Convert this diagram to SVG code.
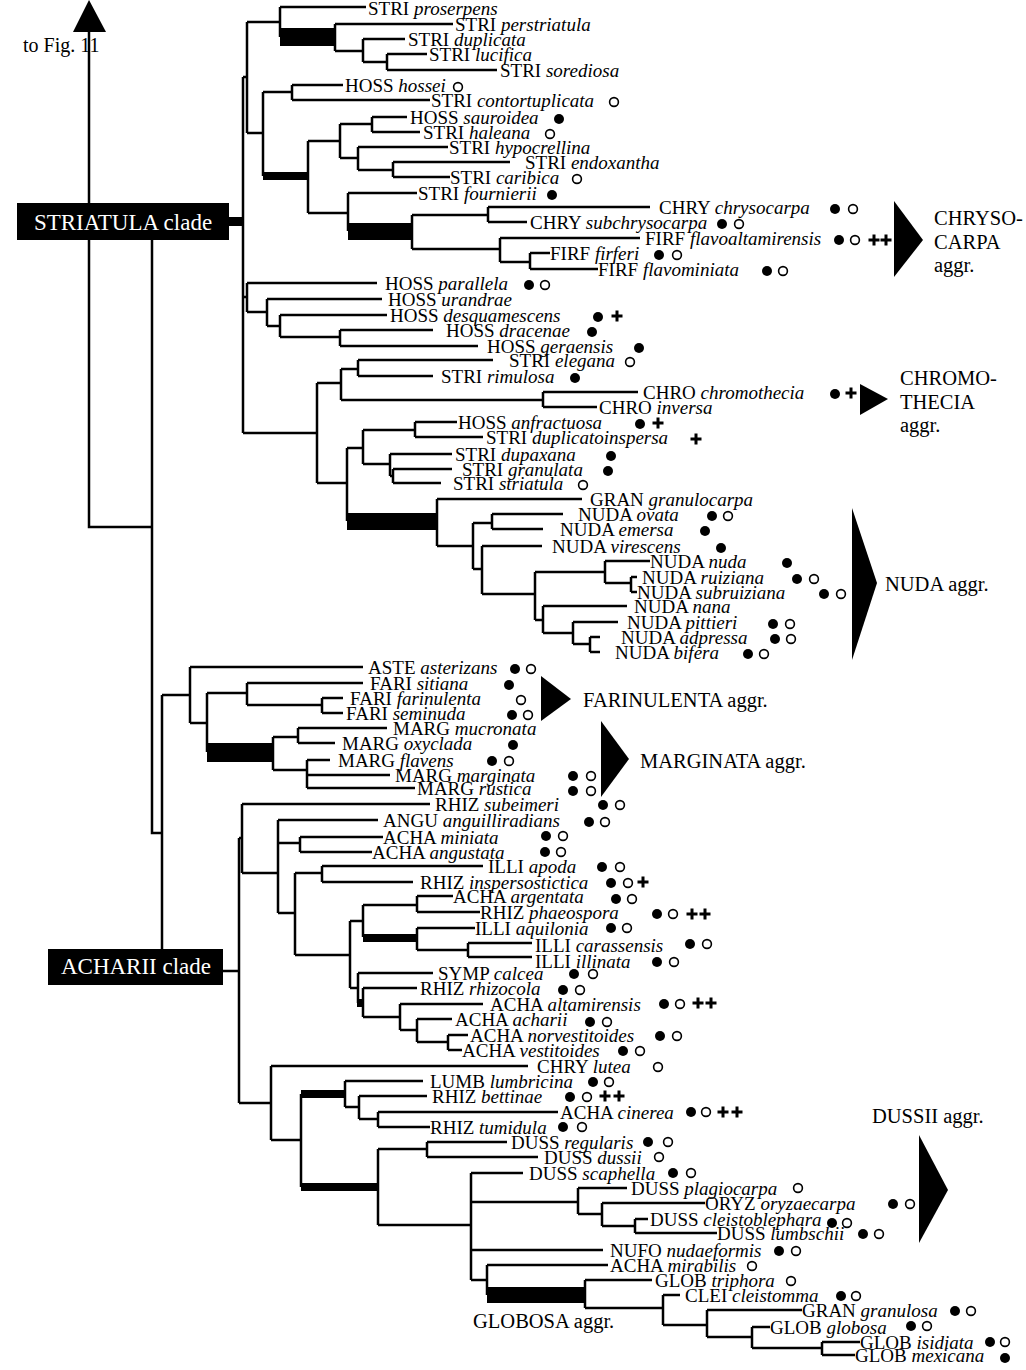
<svg xmlns="http://www.w3.org/2000/svg" xmlns:xlink="http://www.w3.org/1999/xlink" width="1026" height="1370" viewBox="0 0 1026 1370">
<style>
.l{fill:none;stroke:#000;stroke-width:2.5}
.t{font-family:"Liberation Serif","Times New Roman",serif;font-size:19px;fill:#000}
.i{font-style:italic}
.a{font-family:"Liberation Serif","Times New Roman",serif;font-size:20.5px;fill:#000}
.c{font-family:"Liberation Serif","Times New Roman",serif;font-size:23px;fill:#fff}
</style>
<defs>
<circle id="fc" r="5" fill="#000"/>
<circle id="oc" r="4.4" fill="#fff" stroke="#000" stroke-width="1.6"/>
<path id="pl" d="M-5.5 0H5.5M0 -5.5V5.5" stroke="#000" stroke-width="3" fill="none"/>
</defs>
<rect width="1026" height="1370" fill="#fff"/>
<g id="connectors">
<path class="l" d="M280 7H366M335 24H453M363 39H405M387 54H427M387 70H497M292 85H343M292 100H430M372 117H407M372 132H420M358 147H448M393 162H510M393 177H450M348 193H417M488 207H650M488 222H527M500 238H640M530 253H550M530 269H598M247 283H377M267 299H382M280 315H387M340 330H433M340 346H478M358 360H493M358 376H433M543 392H638M543 407H597M415 422H457M415 437H483M390 454H452M393 469H452M393 483H441M437 499H582M492 514H563M492 529H543M482 546H542M605 561H650M631 577H637M631 592H637M543 606H627M573 622H618M590 637H600M590 652H600"/>
<path class="l" d="M190 667H363M247 683H363M322 698H343M322 713H343M298 728H387M298 743H335M307 760H330M307 775H390M307 788H415M242 804H430M278 820H378M300 837H383M300 852H372M322 866H483M322 882H413M417 896H453M417 912H480M417 928H475M468 943H532M468 957H532M358 973H433M363 988H417M400 1004H483M417 1019H452M448 1035H468M448 1050H462M271 1066H528M345 1081H423M359 1096H427M378 1112H558M378 1127H430M427 1142H507M427 1157H538M471 1173H523M578 1188H627M602 1203H705M635 1219H648M635 1233H717M471 1250H603M487 1265H608M585 1280H652M663 1295H680M707 1310H802M752 1327H770M822 1342H860M822 1355H855"/>
<path class="l" d="M387 54V70M363 62H387M363 39V62M335 51H363M335 24V51M280 7V37M247 22H280M292 85V100M263 92H292M372 117V132M340 124H372M393 162V177M358 170H393M358 147V170M340 158H358M340 124V158M308 141H340M488 207V222M412 215H488M530 253V269M500 262H530M500 238V262M412 249H500M412 215V249M348 193V231M308 213H348M308 141V213M263 92V176M247 133H263M247 22V133M243 77H247M340 330V346M280 337H340M280 315V337M267 326H280M267 299V326M247 312H267M247 283V312M243 297H247M358 360V376M341 369H358M543 392V407M341 400H543M341 369V400M317 383H341M415 422V437M363 430H415M393 469V483M390 476H393M390 454V476M363 464H390M363 430V464M347 448H363M492 514V529M473 523H492M631 577V592M605 583H631M605 561V583M535 572H605M590 637V652M573 644H590M573 622V644M543 633H573M543 606V633M535 620H543M535 572V620M482 594H535M482 546V594M473 569H482M473 523V569M437 546H473M437 499V546M347 448V521M317 483H347M317 383V483M243 433H317M243 77V433"/>
<path class="l" d="M89 30V527H152M152 240V833H162M162 695V949M162 695H190M322 698V713M247 705H322M247 683V705M207 693H247M298 728V743M273 737H298M307 760V788M273 770H307M273 737V770M207 693V752M190 723H207M190 667V723"/>
<path class="l" d="M300 837V852M278 843H300M322 866V882M295 873H322M417 896V912M363 905H417M468 943V957M417 950H468M417 928V950M363 905V937M350 921H363M448 1035V1050M417 1042H448M417 1019V1042M400 1030H417M400 1004V1030M363 1017H400M363 988V1017M358 1003H363M358 973V1003M350 988H358M350 921V988M295 955H350M295 873V955M278 913H295M278 820V913M242 873H278M242 804V873M239 838H242M239 838V1103M223 971H239M378 1112V1127M359 1119H378M359 1096V1119M345 1107H359M345 1081V1107M427 1142V1157M378 1149H427M635 1219V1233M602 1226H635M602 1203V1226M578 1214H602M578 1188V1214M471 1202H578M822 1342V1355M752 1348H822M752 1327V1348M707 1337H752M707 1310V1337M663 1325H707M663 1295V1325M585 1308H663M585 1280V1308M487 1265V1295M471 1280H487M471 1173V1280M378 1225H471M378 1149V1225M301 1094V1187M271 1140H301M271 1066V1140M239 1103H271"/>
<g id="thick" fill="#000">
<rect x="280" y="28" width="55" height="18"/>
<rect x="348" y="223" width="64" height="17"/>
<rect x="263" y="172" width="45" height="8"/>
<rect x="347" y="513" width="90" height="17"/>
<rect x="229" y="217" width="14" height="9"/>
<rect x="207" y="743" width="66" height="19"/>
<rect x="363" y="934" width="54" height="8"/>
<rect x="357" y="999" width="6" height="8"/>
<rect x="301" y="1090" width="44" height="8"/>
<rect x="487" y="1287" width="98" height="16"/>
<rect x="301" y="1183" width="77" height="8"/>
</g>
<polygon points="73,32 89,0 106,32" fill="#000"/>
</g>
<g id="fig11"><text class="a" x="23" y="52" style="font-size:20px">to Fig. 11</text></g>
<g id="striatula-clade"><rect x="17" y="203" width="212" height="37" fill="#000"/><text class="c" x="123" y="230" text-anchor="middle">STRIATULA clade</text></g>
<g id="acharii-clade"><rect x="48" y="949" width="175" height="36" fill="#000"/><text class="c" x="136" y="974" text-anchor="middle">ACHARII clade</text></g>
<g id="aggregates" fill="#000">
<polygon points="894,201 923,240 894,277"/>
<polygon points="860,384 888,399 860,415"/>
<polygon points="852,508 877,583 852,660"/>
<polygon points="541,676 571,699 541,721"/>
<polygon points="601,721 629,759 601,797"/>
<polygon points="919,1135 948,1190 919,1243"/>
<text class="a" x="934" y="225">CHRYSO-</text><text class="a" x="934" y="249">CARPA</text><text class="a" x="934" y="272">aggr.</text>
<text class="a" x="900" y="385">CHROMO-</text><text class="a" x="900" y="409">THECIA</text><text class="a" x="900" y="432">aggr.</text>
<text class="a" x="885" y="591">NUDA aggr.</text>
<text class="a" x="583" y="707">FARINULENTA aggr.</text>
<text class="a" x="640" y="768">MARGINATA aggr.</text>
<text class="a" x="872" y="1123">DUSSII aggr.</text>
<text class="a" x="473" y="1328">GLOBOSA aggr.</text>
</g>
<g id="leaves">
<g id="proserpens"><text class="t" x="368" y="15">STRI <tspan class="i">proserpens</tspan></text></g>
<g id="perstriatula"><text class="t" x="455" y="31">STRI <tspan class="i">perstriatula</tspan></text></g>
<g id="duplicata"><text class="t" x="408" y="46">STRI <tspan class="i">duplicata</tspan></text></g>
<g id="lucifica"><text class="t" x="429" y="61">STRI <tspan class="i">lucifica</tspan></text></g>
<g id="sorediosa"><text class="t" x="500" y="77">STRI <tspan class="i">sorediosa</tspan></text></g>
<g id="hossei"><text class="t" x="345" y="92">HOSS <tspan class="i">hossei</tspan></text><use href="#oc" x="458" y="87"/></g>
<g id="contortuplicata"><text class="t" x="431" y="107">STRI <tspan class="i">contortuplicata</tspan></text><use href="#oc" x="614" y="102"/></g>
<g id="sauroidea"><text class="t" x="410" y="124">HOSS <tspan class="i">sauroidea</tspan></text><use href="#fc" x="559" y="119"/></g>
<g id="haleana"><text class="t" x="423" y="139">STRI <tspan class="i">haleana</tspan></text><use href="#oc" x="550" y="134"/></g>
<g id="hypocrellina"><text class="t" x="449" y="154">STRI <tspan class="i">hypocrellina</tspan></text></g>
<g id="endoxantha"><text class="t" x="525" y="169">STRI <tspan class="i">endoxantha</tspan></text></g>
<g id="caribica"><text class="t" x="450" y="184">STRI <tspan class="i">caribica</tspan></text><use href="#oc" x="577" y="179"/></g>
<g id="fournierii"><text class="t" x="418" y="200">STRI <tspan class="i">fournierii</tspan></text><use href="#fc" x="552" y="195"/></g>
<g id="chrysocarpa"><text class="t" x="659" y="214">CHRY <tspan class="i">chrysocarpa</tspan></text><use href="#fc" x="835" y="209"/><use href="#oc" x="853" y="209"/></g>
<g id="subchrysocarpa"><text class="t" x="530" y="229">CHRY <tspan class="i">subchrysocarpa</tspan></text><use href="#fc" x="722" y="224"/><use href="#oc" x="739" y="224"/></g>
<g id="flavoaltamirensis"><text class="t" x="645" y="245">FIRF <tspan class="i">flavoaltamirensis</tspan></text><use href="#fc" x="839" y="240"/><use href="#oc" x="855" y="240"/><use href="#pl" x="874" y="240"/><use href="#pl" x="886" y="240"/></g>
<g id="firferi"><text class="t" x="550" y="260">FIRF <tspan class="i">firferi</tspan></text><use href="#fc" x="659" y="255"/><use href="#oc" x="677" y="255"/></g>
<g id="flavominiata"><text class="t" x="598" y="276">FIRF <tspan class="i">flavominiata</tspan></text><use href="#fc" x="767" y="271"/><use href="#oc" x="783" y="271"/></g>
<g id="parallela"><text class="t" x="385" y="290">HOSS <tspan class="i">parallela</tspan></text><use href="#fc" x="529" y="285"/><use href="#oc" x="545" y="285"/></g>
<g id="urandrae"><text class="t" x="388" y="306">HOSS <tspan class="i">urandrae</tspan></text></g>
<g id="desquamescens"><text class="t" x="390" y="322">HOSS <tspan class="i">desquamescens</tspan></text><use href="#fc" x="598" y="317"/><use href="#pl" x="617" y="316"/></g>
<g id="dracenae"><text class="t" x="446" y="337">HOSS <tspan class="i">dracenae</tspan></text><use href="#fc" x="592" y="332"/></g>
<g id="geraensis"><text class="t" x="487" y="353">HOSS <tspan class="i">geraensis</tspan></text><use href="#fc" x="639" y="348"/></g>
<g id="elegana"><text class="t" x="509" y="367">STRI <tspan class="i">elegana</tspan></text><use href="#oc" x="630" y="362"/></g>
<g id="rimulosa"><text class="t" x="441" y="383">STRI <tspan class="i">rimulosa</tspan></text><use href="#fc" x="575" y="378"/></g>
<g id="chromothecia"><text class="t" x="643" y="399">CHRO <tspan class="i">chromothecia</tspan></text><use href="#fc" x="835" y="394"/><use href="#pl" x="851" y="393"/></g>
<g id="inversa"><text class="t" x="599" y="414">CHRO <tspan class="i">inversa</tspan></text></g>
<g id="anfractuosa"><text class="t" x="458" y="429">HOSS <tspan class="i">anfractuosa</tspan></text><use href="#fc" x="640" y="424"/><use href="#pl" x="658" y="423"/></g>
<g id="duplicatoinspersa"><text class="t" x="486" y="444">STRI <tspan class="i">duplicatoinspersa</tspan></text><use href="#pl" x="696" y="439"/></g>
<g id="dupaxana"><text class="t" x="455" y="461">STRI <tspan class="i">dupaxana</tspan></text><use href="#fc" x="611" y="456"/></g>
<g id="granulata"><text class="t" x="462" y="476">STRI <tspan class="i">granulata</tspan></text><use href="#fc" x="608" y="471"/></g>
<g id="striatula"><text class="t" x="453" y="490">STRI <tspan class="i">striatula</tspan></text><use href="#oc" x="583" y="485"/></g>
<g id="granulocarpa"><text class="t" x="590" y="506">GRAN <tspan class="i">granulocarpa</tspan></text></g>
<g id="ovata"><text class="t" x="578" y="521">NUDA <tspan class="i">ovata</tspan></text><use href="#fc" x="712" y="516"/><use href="#oc" x="728" y="516"/></g>
<g id="emersa"><text class="t" x="560" y="536">NUDA <tspan class="i">emersa</tspan></text><use href="#fc" x="705" y="531"/></g>
<g id="virescens"><text class="t" x="552" y="553">NUDA <tspan class="i">virescens</tspan></text><use href="#fc" x="721" y="548"/></g>
<g id="nuda"><text class="t" x="650" y="568">NUDA <tspan class="i">nuda</tspan></text><use href="#fc" x="787" y="563"/></g>
<g id="ruiziana"><text class="t" x="642" y="584">NUDA <tspan class="i">ruiziana</tspan></text><use href="#fc" x="797" y="579"/><use href="#oc" x="814" y="579"/></g>
<g id="subruiziana"><text class="t" x="637" y="599">NUDA <tspan class="i">subruiziana</tspan></text><use href="#fc" x="824" y="594"/><use href="#oc" x="841" y="594"/></g>
<g id="nana"><text class="t" x="634" y="613">NUDA <tspan class="i">nana</tspan></text></g>
<g id="pittieri"><text class="t" x="627" y="629">NUDA <tspan class="i">pittieri</tspan></text><use href="#fc" x="773" y="624"/><use href="#oc" x="790" y="624"/></g>
<g id="adpressa"><text class="t" x="621" y="644">NUDA <tspan class="i">adpressa</tspan></text><use href="#fc" x="775" y="639"/><use href="#oc" x="791" y="639"/></g>
<g id="bifera"><text class="t" x="615" y="659">NUDA <tspan class="i">bifera</tspan></text><use href="#fc" x="748" y="654"/><use href="#oc" x="764" y="654"/></g>
<g id="asterizans"><text class="t" x="368" y="674">ASTE <tspan class="i">asterizans</tspan></text><use href="#fc" x="515" y="669"/><use href="#oc" x="531" y="669"/></g>
<g id="sitiana"><text class="t" x="370" y="690">FARI <tspan class="i">sitiana</tspan></text><use href="#fc" x="509" y="685"/></g>
<g id="farinulenta"><text class="t" x="350" y="705">FARI <tspan class="i">farinulenta</tspan></text><use href="#oc" x="521" y="700"/></g>
<g id="seminuda"><text class="t" x="346" y="720">FARI <tspan class="i">seminuda</tspan></text><use href="#fc" x="512" y="715"/><use href="#oc" x="528" y="715"/></g>
<g id="mucronata"><text class="t" x="393" y="735">MARG <tspan class="i">mucronata</tspan></text></g>
<g id="oxyclada"><text class="t" x="342" y="750">MARG <tspan class="i">oxyclada</tspan></text><use href="#fc" x="513" y="745"/></g>
<g id="flavens"><text class="t" x="338" y="767">MARG <tspan class="i">flavens</tspan></text><use href="#fc" x="492" y="761"/><use href="#oc" x="509" y="761"/></g>
<g id="marginata"><text class="t" x="395" y="782">MARG <tspan class="i">marginata</tspan></text><use href="#fc" x="573" y="776"/><use href="#oc" x="591" y="776"/></g>
<g id="rustica"><text class="t" x="417" y="795">MARG <tspan class="i">rustica</tspan></text><use href="#fc" x="573" y="791"/><use href="#oc" x="591" y="791"/></g>
<g id="subeimeri"><text class="t" x="435" y="811">RHIZ <tspan class="i">subeimeri</tspan></text><use href="#fc" x="603" y="805"/><use href="#oc" x="620" y="805"/></g>
<g id="anguilliradians"><text class="t" x="383" y="827">ANGU <tspan class="i">anguilliradians</tspan></text><use href="#fc" x="589" y="822"/><use href="#oc" x="605" y="822"/></g>
<g id="miniata"><text class="t" x="383" y="844">ACHA <tspan class="i">miniata</tspan></text><use href="#fc" x="546" y="836"/><use href="#oc" x="563" y="836"/></g>
<g id="angustata"><text class="t" x="372" y="859">ACHA <tspan class="i">angustata</tspan></text><use href="#fc" x="545" y="852"/><use href="#oc" x="561" y="852"/></g>
<g id="apoda"><text class="t" x="488" y="873">ILLI <tspan class="i">apoda</tspan></text><use href="#fc" x="602" y="867"/><use href="#oc" x="620" y="867"/></g>
<g id="inspersostictica"><text class="t" x="420" y="889">RHIZ <tspan class="i">inspersostictica</tspan></text><use href="#fc" x="611" y="883"/><use href="#oc" x="628" y="883"/><use href="#pl" x="643" y="882"/></g>
<g id="argentata"><text class="t" x="453" y="903">ACHA <tspan class="i">argentata</tspan></text><use href="#fc" x="616" y="899"/><use href="#oc" x="632" y="899"/></g>
<g id="phaeospora"><text class="t" x="480" y="919">RHIZ <tspan class="i">phaeospora</tspan></text><use href="#fc" x="657" y="914"/><use href="#oc" x="673" y="914"/><use href="#pl" x="692" y="914"/><use href="#pl" x="705" y="914"/></g>
<g id="aquilonia"><text class="t" x="475" y="935">ILLI <tspan class="i">aquilonia</tspan></text><use href="#fc" x="611" y="928"/><use href="#oc" x="627" y="928"/></g>
<g id="carassensis"><text class="t" x="535" y="952">ILLI <tspan class="i">carassensis</tspan></text><use href="#fc" x="690" y="944"/><use href="#oc" x="707" y="944"/></g>
<g id="illinata"><text class="t" x="535" y="968">ILLI <tspan class="i">illinata</tspan></text><use href="#fc" x="657" y="962"/><use href="#oc" x="674" y="962"/></g>
<g id="calcea"><text class="t" x="438" y="980">SYMP <tspan class="i">calcea</tspan></text><use href="#fc" x="574" y="974"/><use href="#oc" x="593" y="974"/></g>
<g id="rhizocola"><text class="t" x="420" y="995">RHIZ <tspan class="i">rhizocola</tspan></text><use href="#fc" x="563" y="990"/><use href="#oc" x="580" y="990"/></g>
<g id="altamirensis"><text class="t" x="490" y="1011">ACHA <tspan class="i">altamirensis</tspan></text><use href="#fc" x="664" y="1004"/><use href="#oc" x="680" y="1004"/><use href="#pl" x="698" y="1003"/><use href="#pl" x="711" y="1003"/></g>
<g id="acharii"><text class="t" x="455" y="1026">ACHA <tspan class="i">acharii</tspan></text><use href="#fc" x="590" y="1022"/><use href="#oc" x="607" y="1022"/></g>
<g id="norvestitoides"><text class="t" x="470" y="1042">ACHA <tspan class="i">norvestitoides</tspan></text><use href="#fc" x="660" y="1036"/><use href="#oc" x="677" y="1036"/></g>
<g id="vestitoides"><text class="t" x="462" y="1057">ACHA <tspan class="i">vestitoides</tspan></text><use href="#fc" x="623" y="1051"/><use href="#oc" x="640" y="1051"/></g>
<g id="lutea"><text class="t" x="537" y="1073">CHRY <tspan class="i">lutea</tspan></text><use href="#oc" x="658" y="1067"/></g>
<g id="lumbricina"><text class="t" x="430" y="1088">LUMB <tspan class="i">lumbricina</tspan></text><use href="#fc" x="593" y="1082"/><use href="#oc" x="609" y="1082"/></g>
<g id="bettinae"><text class="t" x="432" y="1103">RHIZ <tspan class="i">bettinae</tspan></text><use href="#fc" x="570" y="1097"/><use href="#oc" x="587" y="1097"/><use href="#pl" x="605" y="1096"/><use href="#pl" x="619" y="1096"/></g>
<g id="cinerea"><text class="t" x="560" y="1119">ACHA <tspan class="i">cinerea</tspan></text><use href="#fc" x="691" y="1112"/><use href="#oc" x="706" y="1112"/><use href="#pl" x="723" y="1112"/><use href="#pl" x="737" y="1112"/></g>
<g id="tumidula"><text class="t" x="430" y="1134">RHIZ <tspan class="i">tumidula</tspan></text><use href="#fc" x="563" y="1127"/><use href="#oc" x="582" y="1127"/></g>
<g id="regularis"><text class="t" x="511" y="1149">DUSS <tspan class="i">regularis</tspan></text><use href="#fc" x="648" y="1142"/><use href="#oc" x="668" y="1142"/></g>
<g id="dussii"><text class="t" x="544" y="1164">DUSS <tspan class="i">dussii</tspan></text><use href="#oc" x="659" y="1157"/></g>
<g id="scaphella"><text class="t" x="529" y="1180">DUSS <tspan class="i">scaphella</tspan></text><use href="#fc" x="673" y="1173"/><use href="#oc" x="691" y="1173"/></g>
<g id="plagiocarpa"><text class="t" x="631" y="1195">DUSS <tspan class="i">plagiocarpa</tspan></text><use href="#oc" x="798" y="1188"/></g>
<g id="oryzaecarpa"><text class="t" x="705" y="1210">ORYZ <tspan class="i">oryzaecarpa</tspan></text><use href="#fc" x="893" y="1204"/><use href="#oc" x="910" y="1204"/></g>
<g id="cleistoblephara"><text class="t" x="650" y="1226">DUSS <tspan class="i">cleistoblephara</tspan></text><use href="#fc" x="832" y="1223"/><use href="#oc" x="847" y="1223"/></g>
<g id="lumbschii"><text class="t" x="717" y="1240">DUSS <tspan class="i">lumbschii</tspan></text><use href="#fc" x="863" y="1234"/><use href="#oc" x="879" y="1234"/></g>
<g id="nudaeformis"><text class="t" x="610" y="1257">NUFO <tspan class="i">nudaeformis</tspan></text><use href="#fc" x="779" y="1251"/><use href="#oc" x="796" y="1251"/></g>
<g id="mirabilis"><text class="t" x="610" y="1272">ACHA <tspan class="i">mirabilis</tspan></text><use href="#oc" x="752" y="1266"/></g>
<g id="triphora"><text class="t" x="655" y="1287">GLOB <tspan class="i">triphora</tspan></text><use href="#oc" x="791" y="1281"/></g>
<g id="cleistomma"><text class="t" x="685" y="1302">CLEI <tspan class="i">cleistomma</tspan></text><use href="#fc" x="841" y="1296"/><use href="#oc" x="856" y="1296"/></g>
<g id="granulosa"><text class="t" x="802" y="1317">GRAN <tspan class="i">granulosa</tspan></text><use href="#fc" x="955" y="1311"/><use href="#oc" x="971" y="1311"/></g>
<g id="globosa"><text class="t" x="770" y="1334">GLOB <tspan class="i">globosa</tspan></text><use href="#fc" x="911" y="1326"/><use href="#oc" x="927" y="1326"/></g>
<g id="isidiata"><text class="t" x="860" y="1349">GLOB <tspan class="i">isidiata</tspan></text><use href="#fc" x="990" y="1342"/><use href="#oc" x="1005" y="1342"/></g>
<g id="mexicana"><text class="t" x="855" y="1362">GLOB <tspan class="i">mexicana</tspan></text><use href="#fc" x="1005" y="1358"/></g>
</g>
</svg>
